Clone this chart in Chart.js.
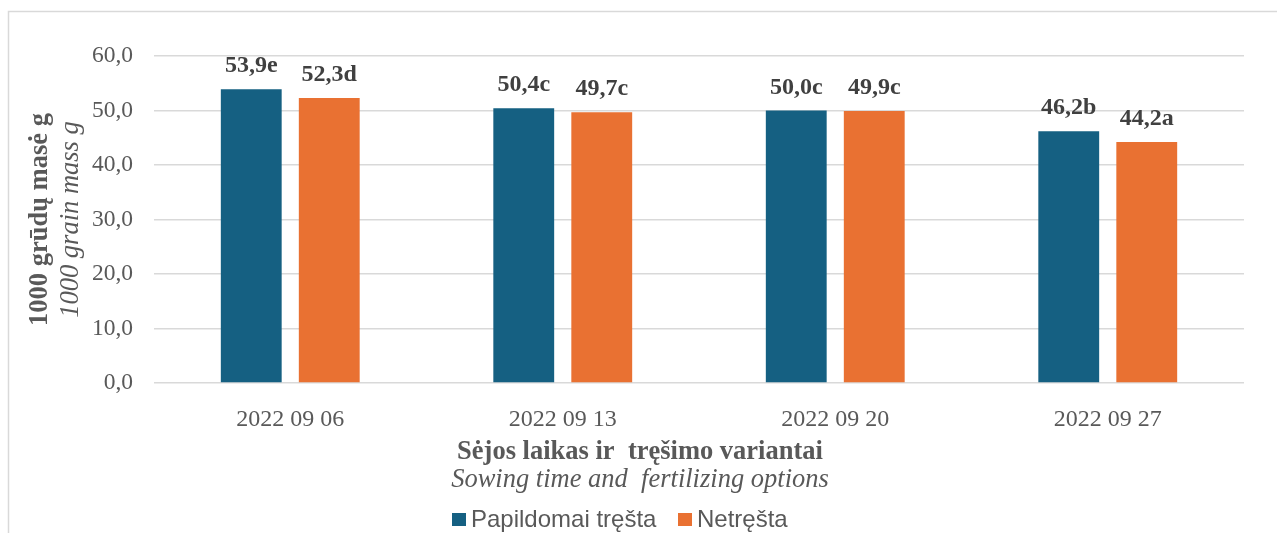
<!DOCTYPE html>
<html>
<head>
<meta charset="utf-8">
<script src="https://cdn.jsdelivr.net/npm/chart.js@4.4.1/dist/chart.umd.min.js"></script>
<style>
  html, body { margin: 0; padding: 0; background: #ffffff; }
  #wrap { position: relative; width: 1277px; height: 533px; }
</style>
</head>
<body>
<div id="wrap"><canvas id="c" width="1277" height="533"></canvas></div>
<script>
// ---- data ----
const categories = ['2022 09 06', '2022 09 13', '2022 09 20', '2022 09 27'];
const seriesNames = ['Papildomai tręšta', 'Netręšta'];
const fertilized = [53.9, 50.4, 50.0, 46.2];
const fertilizedLetters = ['e', 'c', 'c', 'b'];
const unfertilized = [52.3, 49.7, 49.9, 44.2];
const unfertilizedLetters = ['d', 'c', 'c', 'a'];
const yTicks = [0, 10, 20, 30, 40, 50, 60];
const yTitleBold = '1000 grūdų masė g';
const yTitleItalic = '1000 grain mass g';
const xTitleBold = 'Sėjos laikas ir  tręšimo variantai';
const xTitleItalic = 'Sowing time and  fertilizing options';

const colors = ['#156082', '#E97132'];
const serif = '"Liberation Serif", "Times New Roman", serif';
const sans = '"Liberation Sans", Arial, sans-serif';
const fmt = v => v.toFixed(1).replace('.', ',');

const decor = {
  id: 'decor',
  beforeDraw(chart) {
    const ctx = chart.ctx;
    ctx.save();
    ctx.strokeStyle = '#d9d9d9';
    ctx.lineWidth = 1.5;
    ctx.strokeRect(8.5, 11.5, 1400, 700);
    ctx.restore();
  },
  afterDatasetsDraw(chart) {
    const ctx = chart.ctx;
    const letters = [fertilizedLetters, unfertilizedLetters];
    ctx.save();
    ctx.font = 'bold 24px ' + serif;
    ctx.fillStyle = '#404040';
    ctx.textAlign = 'center';
    ctx.textBaseline = 'alphabetic';
    chart.data.datasets.forEach((ds, di) => {
      const meta = chart.getDatasetMeta(di);
      meta.data.forEach((el, i) => {
        ctx.fillText(fmt(ds.data[i]) + letters[di][i], el.x, el.y - 17);
      });
    });
    ctx.restore();
  },
  afterDraw(chart) {
    const ctx = chart.ctx;
    const a = chart.chartArea;
    ctx.save();
    ctx.fillStyle = '#595959';
    ctx.textAlign = 'center';
    ctx.textBaseline = 'alphabetic';
    // x title
    ctx.font = 'bold 26.5px ' + serif;
    ctx.fillText(xTitleBold, 640, 459);
    ctx.font = 'italic 26.5px ' + serif;
    ctx.fillText(xTitleItalic, 640, 487);
    // y title
    const cy = (a.top + a.bottom) / 2;
    ctx.save();
    ctx.translate(47, cy);
    ctx.rotate(-Math.PI / 2);
    ctx.font = 'bold 26.5px ' + serif;
    ctx.fillText(yTitleBold, 0, 0);
    ctx.restore();
    ctx.save();
    ctx.translate(78, cy);
    ctx.rotate(-Math.PI / 2);
    ctx.font = 'italic 26.5px ' + serif;
    ctx.fillText(yTitleItalic, 0, 0);
    ctx.restore();
    // legend
    ctx.textAlign = 'left';
    ctx.font = '24px ' + sans;
    const legendX = [452, 678];
    chart.data.datasets.forEach((ds, di) => {
      ctx.fillStyle = ds.backgroundColor;
      ctx.fillRect(legendX[di], 513, 14, 13);
      ctx.fillStyle = '#595959';
      ctx.fillText(ds.label, legendX[di] + 19, 527);
    });
    ctx.restore();
  }
};

new Chart(document.getElementById('c'), {
  type: 'bar',
  data: {
    labels: categories,
    datasets: [
      { label: seriesNames[0], data: fertilized, backgroundColor: colors[0] },
      { label: seriesNames[1], data: unfertilized, backgroundColor: colors[1] }
    ]
  },
  options: {
    responsive: false,
    animation: false,
    devicePixelRatio: 1,
    categoryPercentage: 0.5725,
    barPercentage: 0.78,
    layout: { padding: { top: 56, right: 33, bottom: 0, left: 0 } },
    plugins: { legend: { display: false }, tooltip: { enabled: false } },
    scales: {
      x: {
        grid: { display: false },
        border: { display: false },
        ticks: { color: '#595959', font: { family: serif, size: 24 }, padding: 14 },
        afterFit(s) { s.height = 150; }
      },
      y: {
        min: 0, max: 60,
        afterBuildTicks(s) { s.ticks = yTicks.map(v => ({ value: v })); },
        grid: { color: '#d9d9d9', lineWidth: 1.5, drawTicks: false },
        border: { display: false },
        ticks: { color: '#595959', font: { family: serif, size: 23.5 }, padding: 21, callback: v => fmt(v) },
        afterFit(s) { s.width = 154; }
      }
    }
  },
  plugins: [decor]
});
</script>
</body>
</html>
